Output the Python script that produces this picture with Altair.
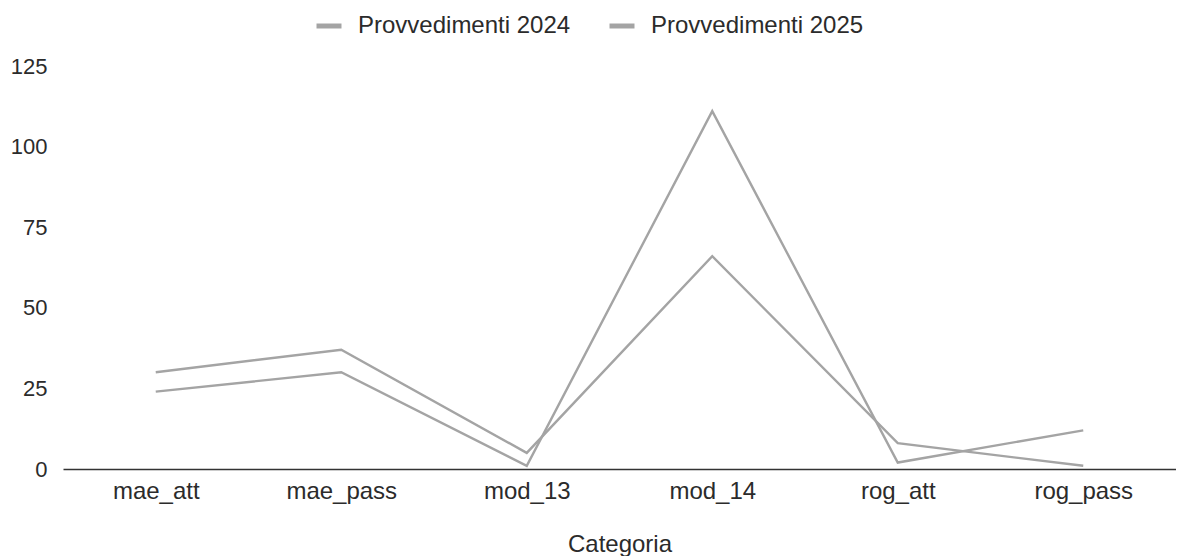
import altair as alt
import pandas as pd

categories = ["mae_att", "mae_pass", "mod_13", "mod_14", "rog_att", "rog_pass"]
prov_2024 = [30, 37, 5, 66, 8, 1]
prov_2025 = [24, 30, 1, 111, 2, 12]
series_names = ["Provvedimenti 2024", "Provvedimenti 2025"]
y_ticks = [0, 25, 50, 75, 100, 125]

rows = []
for name, vals in zip(series_names, [prov_2024, prov_2025]):
    for c, v in zip(categories, vals):
        rows.append({"Categoria": c, "Valore": v, "Serie": name})
df = pd.DataFrame(rows)

line_color = "#a4a4a4"
font = "Liberation Sans"
text_color = "#2b2b2b"

chart = alt.Chart(df).mark_line(strokeWidth=2.4).encode(
    x=alt.X("Categoria:N", sort=categories,
            scale=alt.Scale(type="point", padding=0.5),
            axis=alt.Axis(title="Categoria", labelAngle=0, ticks=False,
                          domainColor="#333333", domainWidth=1.5,
                          labelFont=font, labelFontSize=24,
                          labelColor=text_color, labelPadding=10,
                          titleFont=font, titleFontSize=24,
                          titleFontWeight="normal", titleColor=text_color,
                          titlePadding=29, grid=False)),
    y=alt.Y("Valore:Q", scale=alt.Scale(domain=[0, 125], nice=False),
            axis=alt.Axis(title=None, values=y_ticks,
                          domain=False, ticks=False, grid=False,
                          labelFont=font, labelFontSize=22,
                          labelColor=text_color, labelPadding=16)),
    color=alt.Color("Serie:N", sort=series_names,
                    scale=alt.Scale(domain=series_names, range=[line_color, line_color]),
                    legend=alt.Legend(title=None, orient="none", direction="horizontal",
                                      legendX=251, legendY=-55,
                                      symbolType="stroke", symbolStrokeWidth=5,
                                      symbolSize=625, labelFont=font,
                                      labelFontSize=24, labelColor=text_color,
                                      labelLimit=0, labelOffset=14, columnPadding=28)),
).properties(
    width=1113, height=403,
    padding={"left": 2, "top": 3, "right": 0, "bottom": 0},
).configure_view(stroke=None)

chart.save("out.html", embed_options={"renderer": "svg", "actions": False})
